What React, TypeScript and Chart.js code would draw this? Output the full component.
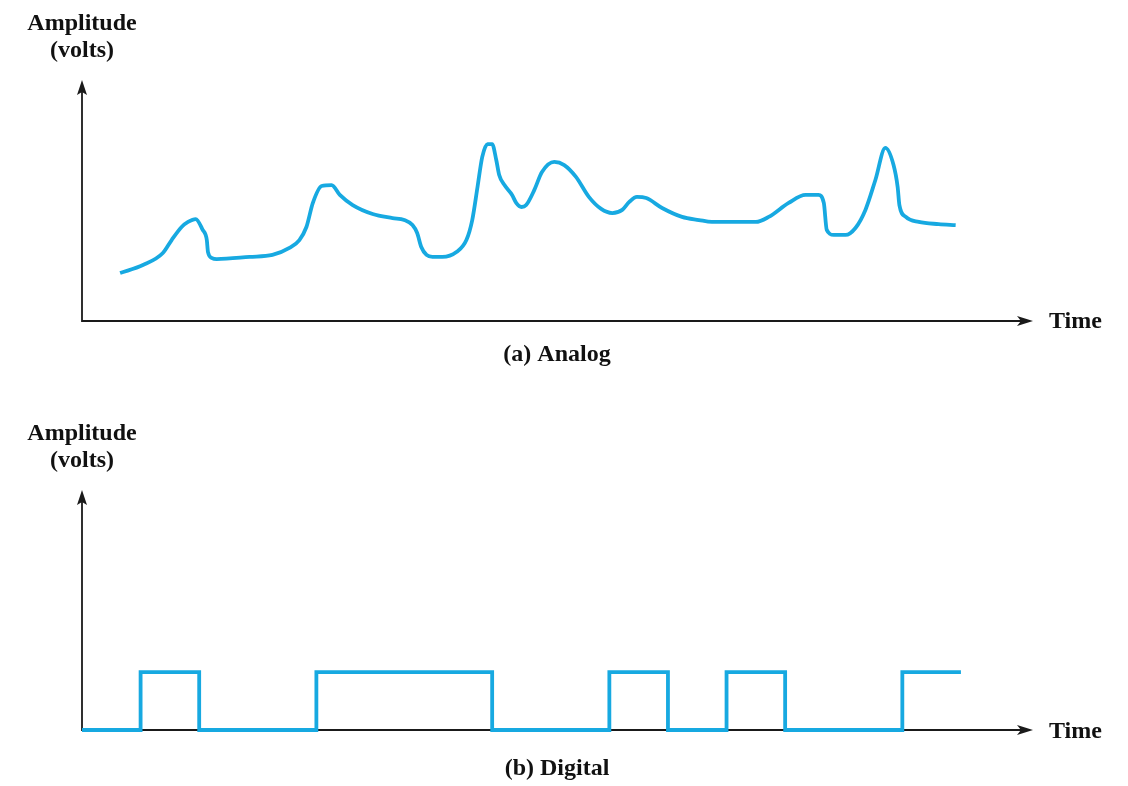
import { useEffect, useRef } from "react";
import { Chart, registerables } from "chart.js";

Chart.register(...registerables);

// ---- data (time in bit periods, amplitude in volts) ----
const analogTime = [
  0.65, 1.04, 1.38, 1.53, 1.7, 1.81, 1.94, 2.06, 2.13, 2.15, 2.22, 2.3, 2.86, 3.25, 3.54, 3.71, 3.83,
  3.94, 4.09, 4.26, 4.4, 4.62, 4.96, 5.3, 5.5, 5.64, 5.72, 5.79, 5.88, 5.98, 6.15, 6.39, 6.56, 6.66,
  6.75, 6.83, 6.92, 7.0, 7.07, 7.12, 7.21, 7.34, 7.41, 7.5, 7.58, 7.72, 7.85, 8.06, 8.23, 8.43, 8.65,
  8.86, 9.05, 9.22, 9.34, 9.47, 9.63, 9.9, 10.24, 10.53, 10.75, 11.5, 11.72, 12.06, 12.35, 12.57,
  12.66, 12.71, 12.83, 13.03, 13.2, 13.37, 13.54, 13.71, 13.85, 13.92, 13.95, 14.06, 14.28, 14.62, 14.91,
];
const analogVolts = [
  1.99, 2.32, 2.82, 3.36, 3.9, 4.11, 4.23, 3.78, 3.36, 2.86, 2.61, 2.57, 2.66, 2.74, 3.03, 3.36, 3.9,
  4.9, 5.6, 5.64, 5.23, 4.81, 4.44, 4.27, 4.19, 3.98, 3.65, 3.07, 2.74, 2.66, 2.66, 2.86, 3.36, 4.19,
  5.56, 6.8, 7.34, 7.34, 6.68, 6.06, 5.64, 5.23, 4.9, 4.73, 4.81, 5.44, 6.18, 6.6, 6.47, 5.98, 5.15,
  4.65, 4.48, 4.61, 4.94, 5.15, 5.1, 4.69, 4.32, 4.19, 4.11, 4.11, 4.32, 4.9, 5.23, 5.23,
  4.9, 3.78, 3.57, 3.57, 3.86, 4.61, 5.85, 7.18, 6.47, 5.56, 4.81, 4.32, 4.11, 4.02, 3.98,
];
const digitalBits = [0, 1, 0, 0, 1, 1, 1, 0, 0, 1, 0, 1, 0, 0, 1];

const yAxisTitle = ["Amplitude", "(volts)"];
const xAxisTitle = "Time";
const captions = ["(a) Analog", "(b) Digital"];

const T_MAX = 16.23;
const ANALOG_MAX = 10;
const DIGITAL_MAX = 4.14;

const BLUE = "#17a9e1";
const INK = "#1a1a1a";
const FONT = 'bold 24px "Liberation Serif", "Times New Roman", serif';

const sketchAxes = {
  id: "sketchAxes",
  beforeDatasetsDraw(chart: any) {
    const { ctx } = chart;
    const { left, right, top, bottom } = chart.chartArea;
    ctx.save();
    ctx.strokeStyle = INK;
    ctx.fillStyle = INK;
    ctx.lineWidth = 1.8;
    ctx.beginPath();
    ctx.moveTo(left, bottom);
    ctx.lineTo(left, top + 10);
    ctx.moveTo(left - 0.9, bottom);
    ctx.lineTo(right - 10, bottom);
    ctx.stroke();
    // up arrow
    ctx.beginPath();
    ctx.moveTo(left, top);
    ctx.lineTo(left - 5, top + 15);
    ctx.lineTo(left, top + 12);
    ctx.lineTo(left + 5, top + 15);
    ctx.closePath();
    ctx.fill();
    // right arrow
    ctx.beginPath();
    ctx.moveTo(right, bottom);
    ctx.lineTo(right - 16, bottom - 5);
    ctx.lineTo(right - 12, bottom);
    ctx.lineTo(right - 16, bottom + 5);
    ctx.closePath();
    ctx.fill();
    ctx.restore();
  },
  afterDraw(chart: any, _args: any, opts: any) {
    const { ctx } = chart;
    const { left, right, top, bottom } = chart.chartArea;
    ctx.save();
    ctx.fillStyle = "#111";
    ctx.font = FONT;
    ctx.textBaseline = "alphabetic";
    ctx.textAlign = "center";
    ctx.fillText(yAxisTitle[0], left, top - 50);
    ctx.fillText(yAxisTitle[1], left, top - 23);
    ctx.fillText(opts.caption, 557, bottom + opts.captionOffset);
    ctx.textAlign = "left";
    ctx.fillText(xAxisTitle, right + 16, bottom + opts.timeOffset);
    ctx.restore();
  },
};

function baseOptions(yMax: number, padding: any, caption: string, captionOffset: number, timeOffset: number) {
  return {
    responsive: false,
    animation: false as const,
    events: [] as any[],
    devicePixelRatio: 1,
    layout: { padding },
    plugins: {
      legend: { display: false },
      tooltip: { enabled: false },
      sketchAxes: { caption, captionOffset, timeOffset },
    },
    scales: {
      x: { type: "linear" as const, min: 0, max: T_MAX, display: false },
      y: { type: "linear" as const, min: 0, max: yMax, display: false },
    },
  };
}

function Panel({ kind }: { kind: "analog" | "digital" }) {
  const ref = useRef<HTMLCanvasElement | null>(null);
  useEffect(() => {
    if (!ref.current) return;
    let chart: Chart;
    if (kind === "analog") {
      const pts = analogTime.map((t, i) => ({ x: t, y: analogVolts[i] }));
      chart = new Chart(ref.current, {
        type: "line",
        data: {
          datasets: [
            {
              data: pts,
              borderColor: BLUE,
              borderWidth: 3.8,
              pointRadius: 0,
              fill: false,
              cubicInterpolationMode: "monotone",
              borderCapStyle: "butt",
              borderJoinStyle: "round",
              clip: false as any,
            },
          ],
        },
        options: baseOptions(ANALOG_MAX, { left: 82, right: 95, top: 80, bottom: 72 }, captions[0], 40, 7) as any,
        plugins: [sketchAxes],
      });
    } else {
      const pts = digitalBits.map((b, i) => ({ x: i, y: b }));
      pts.push({ x: digitalBits.length, y: digitalBits[digitalBits.length - 1] });
      chart = new Chart(ref.current, {
        type: "line",
        data: {
          datasets: [
            {
              data: pts,
              borderColor: BLUE,
              borderWidth: 3.8,
              pointRadius: 0,
              fill: false,
              stepped: "before",
              borderCapStyle: "butt",
              borderJoinStyle: "miter",
              clip: false as any,
            },
          ],
        },
        options: baseOptions(DIGITAL_MAX, { left: 82, right: 95, top: 97, bottom: 56 }, captions[1], 45, 8) as any,
        plugins: [sketchAxes],
      });
    }
    return () => chart.destroy();
  }, [kind]);
  return (
    <canvas
      ref={ref}
      width={1128}
      height={393}
      style={{ position: "absolute", left: 0, top: kind === "analog" ? 0 : 393, width: 1128, height: 393 }}
    />
  );
}

export default function App() {
  return (
    <div style={{ position: "absolute", left: 0, top: 0, width: 1128, height: 786, background: "#fff" }}>
      <Panel kind="analog" />
      <Panel kind="digital" />
    </div>
  );
}
